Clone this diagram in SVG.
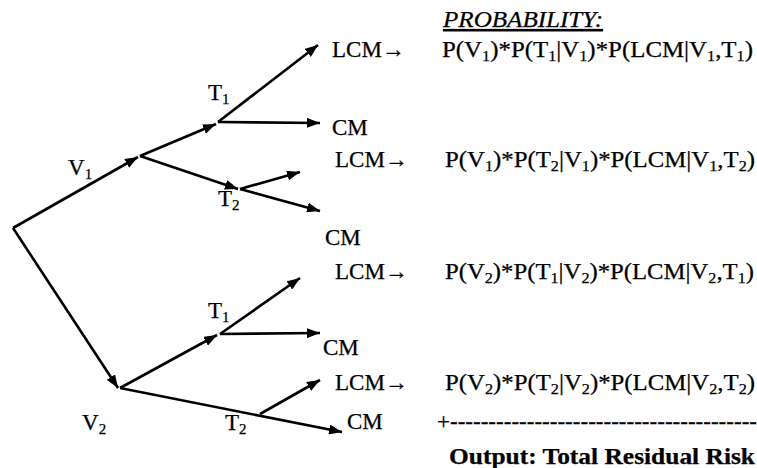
<svg xmlns="http://www.w3.org/2000/svg" width="757" height="468" viewBox="0 0 757 468">
<defs>
<marker id="ah" markerUnits="userSpaceOnUse" markerWidth="14" markerHeight="10" refX="13" refY="5" orient="auto">
<path d="M0,0 L13,5 L0,10 z" fill="#000"/>
</marker>
<style>
text{font-family:'Liberation Serif','Times New Roman',serif;fill:#000;font-size:23px;stroke:#000;stroke-width:0.25px}
.sub{font-size:15px}
.edge{stroke:#000;stroke-width:2.6;fill:none;marker-end:url(#ah)}
.title{font-style:italic;text-decoration:underline}
.out{font-weight:bold}
</style>
</defs>
<rect width="757" height="468" fill="#fff"/>
<g id="connectors">
<line class="edge" x1="13" y1="228" x2="138" y2="157"/>
<line class="edge" x1="13" y1="228" x2="118" y2="388"/>
<line class="edge" x1="140" y1="156" x2="216" y2="124"/>
<line class="edge" x1="140" y1="156" x2="238" y2="189"/>
<line class="edge" x1="218" y1="122" x2="318" y2="45"/>
<line class="edge" x1="218" y1="122" x2="320" y2="123"/>
<line class="edge" x1="240" y1="189" x2="300" y2="172"/>
<line class="edge" x1="240" y1="189" x2="320" y2="211"/>
<line class="edge" x1="120" y1="388" x2="217" y2="335"/>
<line class="edge" x1="220" y1="334" x2="300" y2="278"/>
<line class="edge" x1="220" y1="334" x2="320" y2="333"/>
<line class="edge" x1="120" y1="388" x2="342" y2="432"/>
<line class="edge" x1="260" y1="414" x2="320" y2="380"/>
</g>
<g id="v1"><text x="68" y="175">V<tspan class="sub" dy="4">1</tspan></text></g>
<g id="v2"><text x="82" y="430">V<tspan class="sub" dy="4">2</tspan></text></g>
<g id="t1a"><text x="208" y="100">T<tspan class="sub" dy="4">1</tspan></text></g>
<g id="t2a"><text x="218" y="206">T<tspan class="sub" dy="4">2</tspan></text></g>
<g id="t1b"><text x="208" y="318">T<tspan class="sub" dy="4">1</tspan></text></g>
<g id="t2b"><text x="225" y="430">T<tspan class="sub" dy="4">2</tspan></text></g>
<g id="lcm1"><text x="332" y="57">LCM→</text></g>
<g id="cm1"><text x="332" y="135">CM</text></g>
<g id="lcm2"><text x="335" y="167">LCM→</text></g>
<g id="cm2"><text x="325" y="245">CM</text></g>
<g id="lcm3"><text x="335" y="279">LCM→</text></g>
<g id="cm3"><text x="323" y="355">CM</text></g>
<g id="lcm4"><text x="335" y="390">LCM→</text></g>
<g id="cm4"><text x="347" y="429">CM</text></g>
<g id="title"><text class="title" x="443" y="27" textLength="160" lengthAdjust="spacingAndGlyphs">PROBABILITY:</text></g>
<g id="p1"><text x="442" y="57" textLength="311" lengthAdjust="spacingAndGlyphs">P(V<tspan class="sub" dy="4">1</tspan><tspan dy="-4">)*P(T</tspan><tspan class="sub" dy="4">1</tspan><tspan dy="-4">|V</tspan><tspan class="sub" dy="4">1</tspan><tspan dy="-4">)*P(LCM|V</tspan><tspan class="sub" dy="4">1</tspan><tspan dy="-4">,T</tspan><tspan class="sub" dy="4">1</tspan><tspan dy="-4">)</tspan></text></g>
<g id="p2"><text x="445" y="167" textLength="310" lengthAdjust="spacingAndGlyphs">P(V<tspan class="sub" dy="4">1</tspan><tspan dy="-4">)*P(T</tspan><tspan class="sub" dy="4">2</tspan><tspan dy="-4">|V</tspan><tspan class="sub" dy="4">1</tspan><tspan dy="-4">)*P(LCM|V</tspan><tspan class="sub" dy="4">1</tspan><tspan dy="-4">,T</tspan><tspan class="sub" dy="4">2</tspan><tspan dy="-4">)</tspan></text></g>
<g id="p3"><text x="445" y="279" textLength="309" lengthAdjust="spacingAndGlyphs">P(V<tspan class="sub" dy="4">2</tspan><tspan dy="-4">)*P(T</tspan><tspan class="sub" dy="4">1</tspan><tspan dy="-4">|V</tspan><tspan class="sub" dy="4">2</tspan><tspan dy="-4">)*P(LCM|V</tspan><tspan class="sub" dy="4">2</tspan><tspan dy="-4">,T</tspan><tspan class="sub" dy="4">1</tspan><tspan dy="-4">)</tspan></text></g>
<g id="p4"><text x="445" y="390" textLength="310" lengthAdjust="spacingAndGlyphs">P(V<tspan class="sub" dy="4">2</tspan><tspan dy="-4">)*P(T</tspan><tspan class="sub" dy="4">2</tspan><tspan dy="-4">|V</tspan><tspan class="sub" dy="4">2</tspan><tspan dy="-4">)*P(LCM|V</tspan><tspan class="sub" dy="4">2</tspan><tspan dy="-4">,T</tspan><tspan class="sub" dy="4">2</tspan><tspan dy="-4">)</tspan></text></g>
<g id="sum"><text x="437" y="429" textLength="320" lengthAdjust="spacingAndGlyphs">+----------------------------------------</text></g>
<g id="output"><text class="out" x="449" y="464" textLength="306" lengthAdjust="spacingAndGlyphs">Output: Total Residual Risk</text></g>
</svg>
